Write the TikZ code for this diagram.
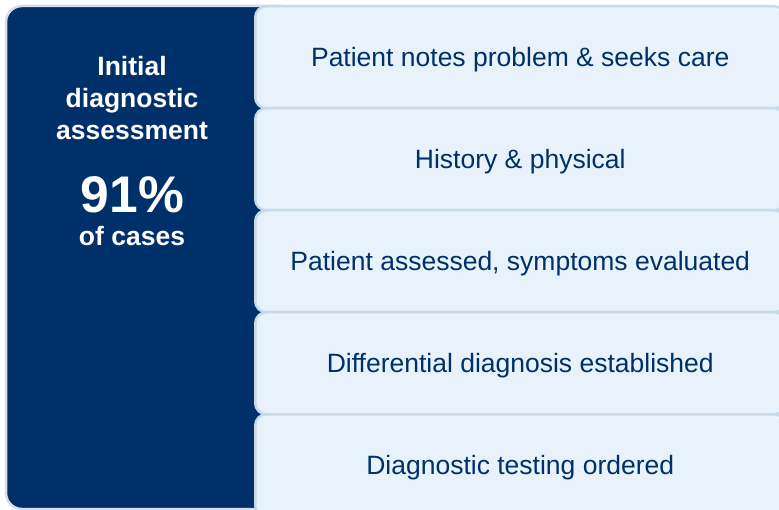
\documentclass[tikz,border=0pt]{standalone}
\usepackage{fontspec}
\setmainfont{Liberation Sans}
\definecolor{navy}{HTML}{00306A}
\definecolor{stagefill}{HTML}{E8F2FA}
\definecolor{stageline}{HTML}{C6DAE7}
\definecolor{rim}{HTML}{D3DEE7}
\begin{document}
\begin{tikzpicture}[x=1pt,y=1pt]

    \tikzset{
      stage/.style={
        draw=stageline,
        line width=2.5pt,
        fill=stagefill,
        rounded corners=11pt,
        minimum width=530pt,
        minimum height=102pt,
        inner sep=0pt,
        anchor=north west,
        text=navy,
        text height=19pt,
        text depth=0pt,
        font=\fontsize{26.5}{30}\selectfont,
      },
      side/.style={
        text=white,
        inner sep=0pt,
        align=center,
        font=\bfseries\fontsize{26.5}{32}\selectfont,
      },
    }
    \useasboundingbox (0,0) rectangle (779,-510);
    \clip (0,0) rectangle (779,-510);
    	% dark panel
	\draw[rim, line width=2.5pt, fill=navy, rounded corners=16pt] (6,-6) rectangle (300,-509);
	\node[side, anchor=north] (title) at (132,-56.5) {Initial\\diagnostic\\assessment};
	\node[side, anchor=base, font=\bfseries\fontsize{51.5}{52}\selectfont] (pct) at (132.5,-213) {91\%};
	\node[side, anchor=base] (cases) at (132,-245.5) {of cases};
	% steps
	\foreach \txt [count=\i] in {Patient notes problem \& seeks care, History \& physical, {Patient assessed, symptoms evaluated}, Differential diagnosis established, Diagnostic testing ordered}
	  \node[stage] (s\i) at (254,{-5-102*(\i-1)}) {\txt};

\end{tikzpicture}
\end{document}
